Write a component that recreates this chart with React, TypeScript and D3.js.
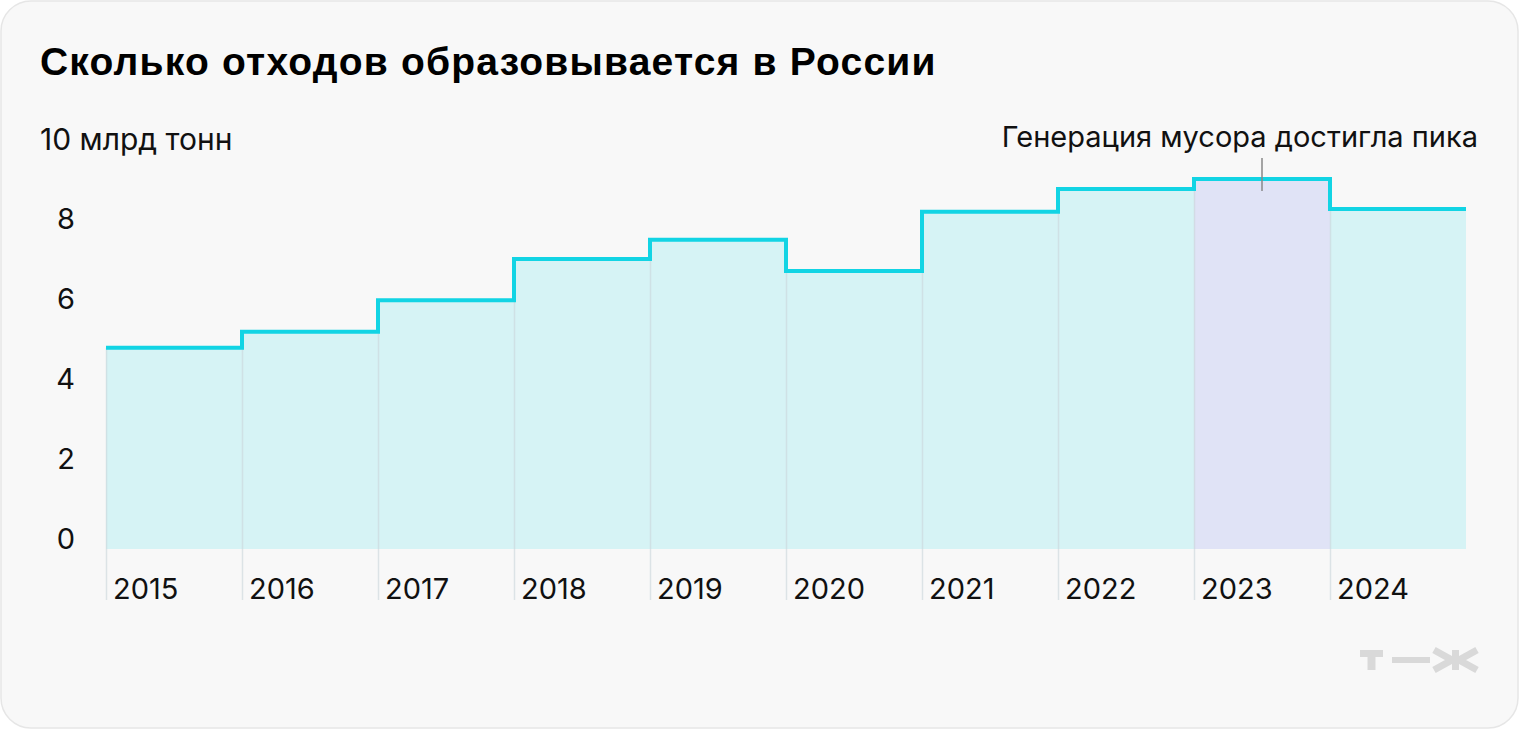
import { useRef, useEffect } from "react";
import * as d3 from "d3";

const years = ["2015", "2016", "2017", "2018", "2019", "2020", "2021", "2022", "2023", "2024"];
const waste = [5.03, 5.43, 6.22, 7.25, 7.73, 6.95, 8.43, 9.0, 9.25, 8.5];
const yTicks = [0, 2, 4, 6, 8];
const peakYear = "2023";

const W = 1520;
const H = 730;
const FONT = "Inter, 'Noto Sans', sans-serif";
const TITLE_FONT = "'Liberation Sans', Arial, sans-serif";

export default function App() {
  const svgRef = useRef<SVGSVGElement>(null);

  useEffect(() => {
    if (!svgRef.current) return;
    const svg = d3.select(svgRef.current);
    svg.selectAll("*").remove();

    // Card
    svg.append("rect")
      .attr("x", 1).attr("y", 1)
      .attr("width", W - 3).attr("height", H - 3)
      .attr("rx", 30)
      .attr("fill", "#f8f8f8")
      .attr("stroke", "#e6e6e6")
      .attr("stroke-width", 1.5);

    svg.append("text")
      .attr("x", 40).attr("y", 75)
      .attr("font-family", TITLE_FONT)
      .attr("font-size", "39px")
      .attr("font-weight", 700)
      .attr("letter-spacing", "1.2px")
      .attr("fill", "#000")
      .text("Сколько отходов образовывается в России");

    const x = d3.scaleBand().domain(years).range([106, 1466]).padding(0);
    const y = d3.scaleLinear().domain([0, 10]).range([549, 149]);
    const bw = x.bandwidth();

    // Fill areas
    svg.append("g")
      .selectAll("rect")
      .data(years)
      .join("rect")
      .attr("x", d => x(d)!)
      .attr("y", (d, i) => y(waste[i]))
      .attr("width", bw)
      .attr("height", (d, i) => y(0) - y(waste[i]))
      .attr("fill", d => (d === peakYear ? "#e0e3f6" : "#d6f3f5"));

    // Separators
    svg.append("g")
      .selectAll("line")
      .data(years)
      .join("line")
      .attr("x1", d => x(d)! + 0.5)
      .attr("x2", d => x(d)! + 0.5)
      .attr("y1", (d, i) => y(i === 0 ? waste[0] : Math.min(waste[i], waste[i - 1])))
      .attr("y2", 600)
      .attr("stroke", "#c9d6da")
      .attr("stroke-opacity", 0.6)
      .attr("stroke-width", 1.5);

    // Step line
    const pts: [number, number][] = [];
    years.forEach((d, i) => {
      pts.push([x(d)!, y(waste[i])]);
      pts.push([x(d)! + bw, y(waste[i])]);
    });
    svg.append("path")
      .attr("d", d3.line()(pts))
      .attr("fill", "none")
      .attr("stroke", "#12d4e4")
      .attr("stroke-width", 4)
      .attr("stroke-linejoin", "miter");

    // Y ticks
    svg.append("g")
      .selectAll("text")
      .data(yTicks)
      .join("text")
      .attr("x", 75)
      .attr("y", d => y(d))
      .attr("text-anchor", "end")
      .attr("font-family", FONT)
      .attr("font-size", "29px")
      .attr("fill", "#111")
      .text(d => d);

    svg.append("text")
      .attr("x", 40).attr("y", y(10) + 1)
      .attr("font-family", FONT)
      .attr("font-size", "30px")
      .attr("fill", "#111")
      .text("10 млрд тонн");

    // X labels
    svg.append("g")
      .selectAll("text")
      .data(years)
      .join("text")
      .attr("x", d => x(d)! + 7)
      .attr("y", 599)
      .attr("font-family", FONT)
      .attr("font-size", "29px")
      .attr("fill", "#111")
      .text(d => d);

    // Annotation
    const px = x(peakYear)! + bw / 2;
    svg.append("line")
      .attr("x1", px).attr("x2", px)
      .attr("y1", 158).attr("y2", 191)
      .attr("stroke", "#888")
      .attr("stroke-width", 1.5);
    svg.append("text")
      .attr("x", 1478).attr("y", 147)
      .attr("text-anchor", "end")
      .attr("font-family", FONT)
      .attr("font-size", "29px")
      .attr("fill", "#111")
      .text("Генерация мусора достигла пика");

    // Logo
    const logo = svg.append("g").attr("fill", "#d9d9d9").attr("stroke", "#d9d9d9");
    logo.append("rect").attr("x", 1360).attr("y", 650).attr("width", 23).attr("height", 7).attr("stroke", "none");
    logo.append("rect").attr("x", 1367.5).attr("y", 650).attr("width", 8).attr("height", 20).attr("stroke", "none");
    logo.append("rect").attr("x", 1392).attr("y", 657).attr("width", 38).attr("height", 6).attr("stroke", "none");
    logo.append("rect").attr("x", 1452).attr("y", 650).attr("width", 7).attr("height", 20).attr("stroke", "none");
    logo.append("path")
      .attr("d", "M1434,650 L1452,660 L1434,670 M1477,650 L1459,660 L1477,670")
      .attr("fill", "none")
      .attr("stroke-width", 7);
  }, []);

  return (
    <svg
      ref={svgRef}
      width={W}
      height={H}
      viewBox={`0 0 ${W} ${H}`}
      style={{ position: "absolute", left: 0, top: 0 }}
    />
  );
}
